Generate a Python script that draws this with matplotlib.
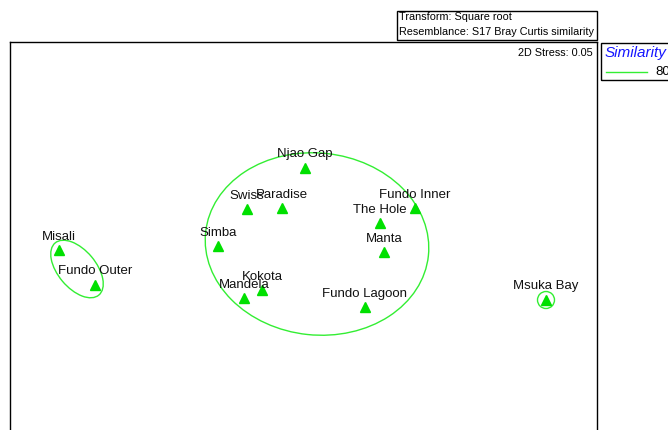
import matplotlib
matplotlib.use("Agg")
import matplotlib.pyplot as plt
from matplotlib.patches import Ellipse, Rectangle

plt.rcParams['font.family'] = ['Liberation Sans', 'DejaVu Sans']

# MDS coordinates (arbitrary units)
sites = ["Misali", "Fundo Outer", "Njao Gap", "Swiss", "Paradise", "Fundo Inner",
         "The Hole", "Simba", "Manta", "Kokota", "Mandela", "Fundo Lagoon", "Msuka Bay"]
mds_x = [-2.41, -2.05, 0.05, -0.53, -0.18, 1.15, 0.80, -0.82, 0.84, -0.38, -0.56, 0.65, 2.46]
mds_y = [0.10, -0.25, 0.92, 0.51, 0.52, 0.52, 0.37, 0.14, 0.08, -0.30, -0.38, -0.47, -0.40]

# 80% similarity contours: (center x, center y, width, height, angle)
contours = [
    (0.17, 0.16, 2.24, 1.82, -6),
    (-2.23, -0.09, 0.68, 0.38, -50),
    (2.46, -0.40, 0.17, 0.17, 0),
]
green = "#00e000"
contour_green = "#33ee33"

W, H = 668, 430
fig = plt.figure(figsize=(W / 100, H / 100), dpi=100)

# main axes: pixel x 10..597, pixel y 42..473 (extends beyond bottom)
ax = fig.add_axes([10 / W, -43 / H, 587 / W, 431 / H])
ax.set_xlim(-2.90, 2.97)
ax.set_ylim(-2.13, 2.18)
ax.set_xticks([])
ax.set_yticks([])
for s in ax.spines.values():
    s.set_linewidth(1.0)
    s.set_color("black")

for cx, cy, w, h, a in contours:
    ax.add_patch(Ellipse((cx, cy), w, h, angle=a, fill=False,
                         edgecolor=contour_green, linewidth=1.0))

ax.plot(mds_x, mds_y, linestyle="none", marker="^", markersize=7,
        color=green, markeredgecolor=green)
for name, x, y in zip(sites, mds_x, mds_y):
    ax.text(x, y + 0.075, name, ha="center", va="bottom", fontsize=9.5, color="#111111")

ax.text(0.993, 0.985, "2D Stress: 0.05", transform=ax.transAxes, ha="right",
        va="top", fontsize=7.8)

# Transform / resemblance box
fig.patches.append(Rectangle((397 / W, 1 - 40 / H), 200 / W, 29 / H,
                             transform=fig.transFigure, fill=False,
                             edgecolor="black", linewidth=1.0))
fig.text(399 / W, 1 - 17 / H, "Transform: Square root", fontsize=7.8, va="center")
fig.text(399 / W, 1 - 32 / H, "Resemblance: S17 Bray Curtis similarity", fontsize=7.8,
         va="center")

# Legend box
fig.patches.append(Rectangle((601 / W, 1 - 80 / H), 80 / W, 37 / H,
                             transform=fig.transFigure, fill=False,
                             edgecolor="black", linewidth=1.0))
fig.text(605 / W, 1 - 53 / H, "Similarity", fontsize=11, style="italic",
         color="#1515ff", va="center")
fig.lines.append(plt.Line2D([606 / W, 647 / W], [1 - 72 / H, 1 - 72 / H],
                            transform=fig.transFigure, color="#33ee33", linewidth=1.0))
fig.text(655 / W, 1 - 72 / H, "80", fontsize=9.5, va="center")

fig.savefig("out.png", dpi=100)
